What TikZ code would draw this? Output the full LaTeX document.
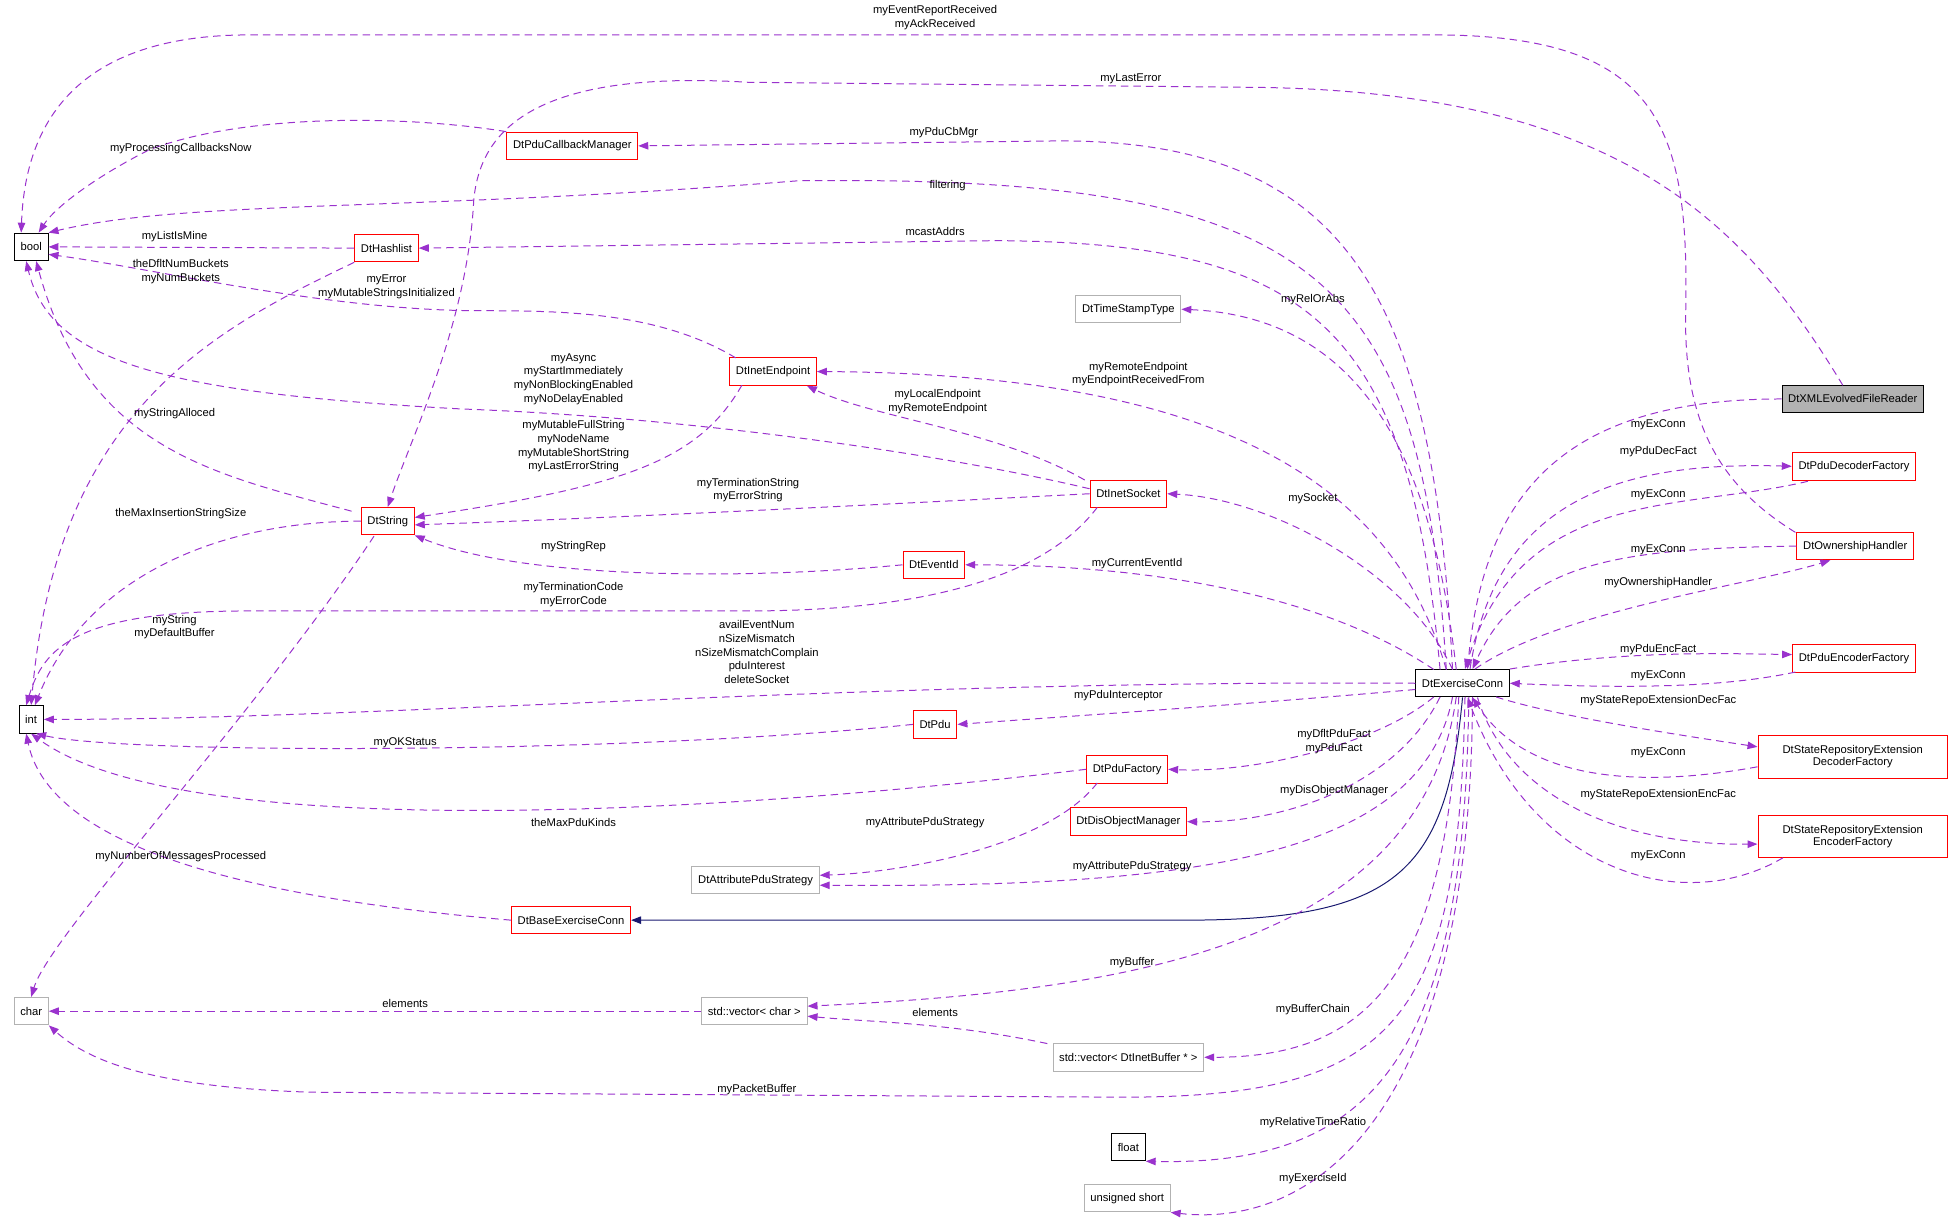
\documentclass[tikz,border=0pt]{standalone}
\usepackage{fontspec}
\setmainfont{Liberation Sans}
\usetikzlibrary{arrows.meta}
\definecolor{orchid}{RGB}{154,50,205}
\definecolor{navy}{RGB}{25,25,112}
\tikzset{
  cls/.style={draw, line width=0.8pt, fill=white, font=\fontsize{9}{10}\selectfont, minimum height=22pt, inner xsep=5pt, inner ysep=1pt, align=center},
  red/.style={cls, draw=red},
  grey/.style={cls, draw=black!30},
  lbl/.style={font=\fontsize{9}{11}\selectfont, inner sep=0pt, align=center},
  dep/.style={orchid, line width=0.8pt, dash pattern=on 6pt off 4pt, -{Triangle[length=8pt,width=6pt]}},
  inh/.style={navy, line width=0.8pt, -{Triangle[length=8pt,width=6pt]}}
}
\begin{document}
\begin{tikzpicture}[x=1pt,y=-1pt]
\useasboundingbox (0,0) rectangle (1568,987);
\node[cls] (bool) at (25,198) {bool};
\node[cls] (int) at (25,577) {int};
\node[grey] (char) at (25,811) {char};
\node[red] (pcm) at (459,117) {DtPduCallbackManager};
\node[red] (hash) at (310,199) {DtHashlist};
\node[grey] (ts) at (905,248) {DtTimeStampType};
\node[red] (ep) at (620,298) {DtInetEndpoint};
\node[red] (sock) at (905,396) {DtInetSocket};
\node[red] (str) at (311,418) {DtString};
\node[red] (evid) at (749,453) {DtEventId};
\node[cls] (ec) at (1173,548) {DtExerciseConn};
\node[cls, fill=black!30] (xml) at (1486,320) {DtXMLEvolvedFileReader};
\node[red] (dec) at (1487,374) {DtPduDecoderFactory};
\node[red] (own) at (1488,438) {DtOwnershipHandler};
\node[red] (enc) at (1487,528) {DtPduEncoderFactory};
\node[red, minimum width=152pt, minimum height=34pt] (srdec) at (1486,607) {DtStateRepositoryExtension\\DecoderFactory};
\node[red, minimum width=152pt, minimum height=34pt] (srenc) at (1486,671) {DtStateRepositoryExtension\\EncoderFactory};
\node[red] (pdu) at (750,581) {DtPdu};
\node[red] (pf) at (904,617) {DtPduFactory};
\node[red] (dis) at (905,659) {DtDisObjectManager};
\node[grey] (attr) at (606,706) {DtAttributePduStrategy};
\node[red] (base) at (458,738) {DtBaseExerciseConn};
\node[grey] (vchar) at (605,811) {std::vector< char >};
\node[grey] (vbuf) at (905,848) {std::vector< DtInetBuffer * >};
\node[cls] (float) at (905,920) {float};
\node[grey] (ushort) at (904,961) {unsigned short};
% left part
\draw[dep] (1440,427) .. controls (1380,390) and (1350,340) .. (1352,250) .. controls (1355,100) and (1330,28) .. (1150,28) -- (200,28) .. controls (60,28) and (20,100) .. ([xshift=-8pt]bool.north);
\draw[dep] (1478,309) .. controls (1400,180) and (1300,72) .. (1000,70) -- (600,66) .. controls (420,55) and (385,110) .. (380,160) .. controls (375,260) and (330,350) .. (str.north);
\draw[dep] (pcm.north west) .. controls (330,93) and (200,90) .. (120,120) .. controls (80,140) and (45,165) .. ([xshift=6pt]bool.north);
\draw[dep] (1165,537) .. controls (1150,250) and (1090,113) .. (850,113) -- (pcm.east);
\draw[dep] (1160,537) .. controls (1140,220) and (1060,140) .. (640,145) .. controls (330,170) and (150,160) .. (bool.north east);
\draw[dep] (hash.west) -- (bool.east);
\draw[dep] (1155,537) .. controls (1130,260) and (1050,195) .. (800,193) -- (hash.east);
\draw[dep] (hash.south west) .. controls (170,265) and (45,330) .. (int.north);
\draw[dep] (590,287) .. controls (520,245) and (430,250) .. (368,249) .. controls (250,246) and (120,215) .. ([yshift=-6pt]bool.east);
\draw[dep] (1168,537) .. controls (1150,380) and (1100,255) .. (ts.east);
\draw[dep] (1160,537) .. controls (1120,400) and (1000,300) .. (ep.east);
\draw[dep] (870,385) .. controls (800,345) and (700,335) .. ([xshift=-8pt]ep.south east);
\draw[dep] ([yshift=4pt]sock.west) .. controls (760,365) and (560,335) .. (370,328) .. controls (130,315) and (40,290) .. ([xshift=-4pt]bool.south);
\draw[dep] (595,309) .. controls (560,370) and (500,390) .. ([yshift=3pt]str.east);
\draw[dep] (282,410) .. controls (170,380) and (70,360) .. ([xshift=4pt]bool.south);
\draw[dep] (sock.west) .. controls (700,405) and (500,415) .. ([yshift=-3pt]str.east);
\draw[dep] (1165,537) .. controls (1130,460) and (1020,400) .. (sock.east);
\draw[dep] (str.west) .. controls (180,418) and (70,460) .. ([xshift=3pt]int.north);
\draw[dep] (evid.west) .. controls (600,465) and (420,465) .. (str.south east);
\draw[dep] (880,407) .. controls (840,460) and (750,490) .. (600,490) -- (200,490) .. controls (60,490) and (35,520) .. ([xshift=-4pt]int.north);
\draw[dep] (1150,537) .. controls (1050,470) and (900,453) .. (evid.east);
\draw[dep] (300,430) .. controls (200,580) and (40,750) .. (char.north);
\draw[dep] (ec.west) .. controls (700,545) and (300,577) .. (int.east);
\draw[dep] ([yshift=-5pt]ec.west) .. controls (1000,565) and (850,575) .. (pdu.east);
\draw[dep] (pdu.west) .. controls (500,605) and (100,605) .. ([xshift=4pt]int.south);
\draw[dep] (1150,559) .. controls (1100,600) and (1000,620) .. (pf.east);
\draw[dep] (pf.west) .. controls (600,650) and (150,680) .. (int.south);
\draw[dep] (880,628) .. controls (840,680) and (720,700) .. ([yshift=4pt]attr.east);
\draw[dep] (1155,559) .. controls (1120,630) and (1030,660) .. (dis.east);
\draw[dep] (1165,559) .. controls (1140,690) and (950,712) .. ([yshift=-4pt]attr.east);
\draw[dep] (base.west) .. controls (200,720) and (40,680) .. ([xshift=-4pt]int.south);
\draw[inh] (ec.south) .. controls (1160,700) and (1120,738) .. (950,738) -- (base.east);
\draw[dep] (1168,559) .. controls (1140,760) and (900,795) .. ([yshift=4pt]vchar.east);
\draw[dep] (vchar.west) -- (char.east);
\draw[dep] (840,837) .. controls (760,820) and (700,820) .. ([yshift=-4pt]vchar.east);
\draw[dep] (1170,559) .. controls (1160,780) and (1100,848) .. (vbuf.east);
\draw[dep] (1175,559) .. controls (1170,820) and (1120,880) .. (900,880) -- (250,876) .. controls (120,872) and (70,850) .. (char.south east);
\draw[dep] (1178,559) .. controls (1175,850) and (1100,935) .. (float.south east);
\draw[dep] (1181,559) .. controls (1180,900) and (1050,985) .. (ushort.south east);
% right part
\draw[dep] (xml.west) .. controls (1250,320) and (1190,400) .. ([xshift=4pt]ec.north);
\draw[dep] ([xshift=6pt]ec.north) .. controls (1200,400) and (1300,370) .. (dec.west);
\draw[dep] (1450,386) .. controls (1350,410) and (1220,390) .. ([xshift=2pt]ec.north);
\draw[dep] (own.west) .. controls (1300,440) and (1220,450) .. ([xshift=8pt]ec.north);
\draw[dep] ([xshift=10pt]ec.north) .. controls (1250,490) and (1400,470) .. ([xshift=-20pt]own.south);
\draw[dep] (ec.north east) .. controls (1300,522) and (1380,524) .. ([yshift=3pt]enc.west);
\draw[dep] (1440,539) .. controls (1380,552) and (1300,552) .. (ec.east);
\draw[dep] (1200,559) .. controls (1250,575) and (1350,590) .. ([yshift=8pt]srdec.west);
\draw[dep] ([yshift=-8pt]srdec.west) .. controls (1300,635) and (1220,620) .. ([xshift=8pt]ec.south);
\draw[dep] ([xshift=12pt]ec.south) .. controls (1210,640) and (1300,678) .. ([yshift=-6pt]srenc.west);
\draw[dep] (1430,688) .. controls (1350,735) and (1230,700) .. ([xshift=4pt]ec.south);
% labels
\node[lbl] (l1) at (750,14) {myEventReportReceived\\myAckReceived};
\node[lbl] (l2) at (907,63) {myLastError};
\node[lbl] (l3) at (145,119) {myProcessingCallbacksNow};
\node[lbl] (l4) at (757,106) {myPduCbMgr};
\node[lbl] (l5) at (760,149) {filtering};
\node[lbl] (l6) at (140,190) {myListIsMine};
\node[lbl] (l7) at (750,186) {mcastAddrs};
\node[lbl] (l8) at (145,218) {theDfltNumBuckets\\myNumBuckets};
\node[lbl] (l9) at (310,230) {myError\\myMutableStringsInitialized};
\node[lbl] (l10) at (1053,240) {myRelOrAbs};
\node[lbl] (l11) at (913,300) {myRemoteEndpoint\\myEndpointReceivedFrom};
\node[lbl] (l12) at (752,322) {myLocalEndpoint\\myRemoteEndpoint};
\node[lbl] (l13) at (460,304) {myAsync\\myStartImmediately\\myNonBlockingEnabled\\myNoDelayEnabled};
\node[lbl] (l14) at (460,358) {myMutableFullString\\myNodeName\\myMutableShortString\\myLastErrorString};
\node[lbl] (l15) at (140,332) {myStringAlloced};
\node[lbl] (l16) at (600,393) {myTerminationString\\myErrorString};
\node[lbl] (l17) at (1053,400) {mySocket};
\node[lbl] (l18) at (145,412) {theMaxInsertionStringSize};
\node[lbl] (l19) at (460,438) {myStringRep};
\node[lbl] (l20) at (460,477) {myTerminationCode\\myErrorCode};
\node[lbl] (l21) at (912,452) {myCurrentEventId};
\node[lbl] (l22) at (140,503) {myString\\myDefaultBuffer};
\node[lbl] (l23) at (607,523) {availEventNum\\nSizeMismatch\\nSizeMismatchComplain\\pduInterest\\deleteSocket};
\node[lbl] (l24) at (897,558) {myPduInterceptor};
\node[lbl] (l25) at (325,596) {myOKStatus};
\node[lbl] (l26) at (1070,595) {myDfltPduFact\\myPduFact};
\node[lbl] (l27) at (1070,634) {myDisObjectManager};
\node[lbl] (l28) at (460,660) {theMaxPduKinds};
\node[lbl] (l29) at (742,660) {myAttributePduStrategy};
\node[lbl] (l30) at (908,695) {myAttributePduStrategy};
\node[lbl] (l31) at (145,687) {myNumberOfMessagesProcessed};
\node[lbl] (l32) at (908,772) {myBuffer};
\node[lbl] (l33) at (325,805) {elements};
\node[lbl] (l34) at (750,812) {elements};
\node[lbl] (l35) at (1053,810) {myBufferChain};
\node[lbl] (l36) at (607,874) {myPacketBuffer};
\node[lbl] (l37) at (1053,900) {myRelativeTimeRatio};
\node[lbl] (l38) at (1053,945) {myExerciseId};
\node[lbl] (l39) at (1330,341) {myExConn};
\node[lbl] (l40) at (1330,362) {myPduDecFact};
\node[lbl] (l41) at (1330,397) {myExConn};
\node[lbl] (l42) at (1330,441) {myExConn};
\node[lbl] (l43) at (1330,467) {myOwnershipHandler};
\node[lbl] (l44) at (1330,521) {myPduEncFact};
\node[lbl] (l45) at (1330,542) {myExConn};
\node[lbl] (l46) at (1330,562) {myStateRepoExtensionDecFac};
\node[lbl] (l47) at (1330,604) {myExConn};
\node[lbl] (l48) at (1330,637) {myStateRepoExtensionEncFac};
\node[lbl] (l49) at (1330,686) {myExConn};
\end{tikzpicture}
\end{document}
